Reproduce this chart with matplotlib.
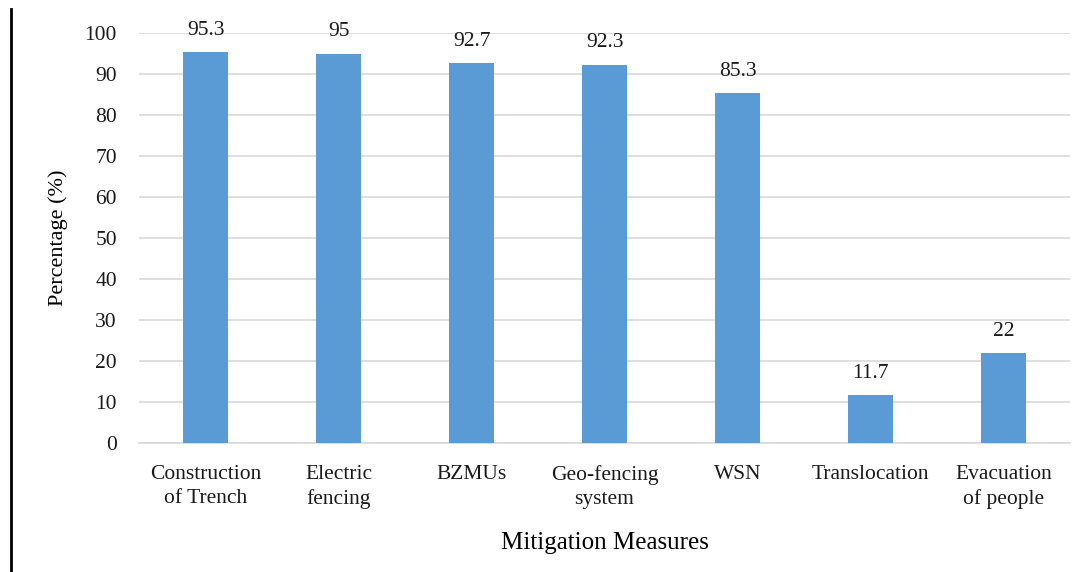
import matplotlib
matplotlib.use("Agg")
import matplotlib.pyplot as plt
from matplotlib.lines import Line2D

categories = ["Construction\nof Trench", "Electric\nfencing", "BZMUs", "Geo-fencing\nsystem",
              "WSN", "Translocation", "Evacuation\nof people"]
values = [95.3, 95, 92.7, 92.3, 85.3, 11.7, 22]
value_labels = ["95.3", "95", "92.7", "92.3", "85.3", "11.7", "22"]
y_ticks = [0, 10, 20, 30, 40, 50, 60, 70, 80, 90, 100]

plt.rcParams["font.family"] = ["Liberation Serif", "DejaVu Serif"]

fig = plt.figure(figsize=(10.78, 5.72), dpi=100)
ax = fig.add_axes([0.129, 0.2255, 0.8636, 0.7168])

x = list(range(len(categories)))
ax.bar(x, values, width=0.34, color="#5B9BD5", zorder=3)

for xi, v, lab in zip(x, values, value_labels):
    ax.text(xi, v + 3.0, lab, ha="center", va="bottom", fontsize=15.5, color="#1a1a1a")

ax.set_xlim(-0.5, len(categories) - 0.5)
ax.set_ylim(0, 100)
ax.set_yticks(y_ticks)
ax.set_yticklabels([str(t) for t in y_ticks], fontsize=15.5)
ax.set_xticks(x)
ax.set_xticklabels(categories, fontsize=15.5, linespacing=1.35)
ax.tick_params(axis="both", length=0, colors="#1a1a1a")
ax.tick_params(axis="y", pad=16)
ax.tick_params(axis="x", pad=16)

ax.yaxis.grid(True, color="#d9d9d9", linewidth=1.2, zorder=0)
ax.set_axisbelow(True)
for s in ["top", "right", "left"]:
    ax.spines[s].set_visible(False)
ax.spines["bottom"].set_color("#d9d9d9")
ax.spines["bottom"].set_linewidth(1.2)

ax.set_ylabel("Percentage (%)", fontsize=16, labelpad=12)
ax.set_xlabel("Mitigation Measures", fontsize=18, labelpad=16)

fig.add_artist(Line2D([0.0105, 0.0105], [0.0, 0.985], transform=fig.transFigure,
                      color="black", linewidth=2))

fig.savefig("out.png", dpi=100)
